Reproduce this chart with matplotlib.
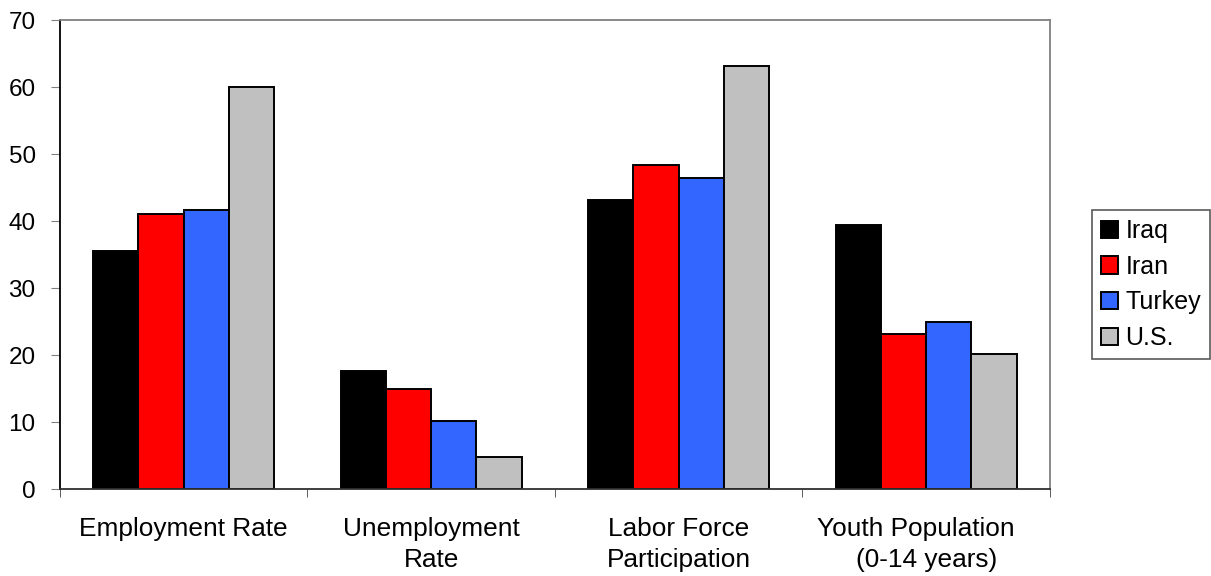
import numpy as np
import matplotlib.pyplot as plt

plt.rcParams['font.family'] = ['Liberation Sans', 'DejaVu Sans']

categories = ['Employment Rate', 'Unemployment\nRate', 'Labor Force\nParticipation',
              'Youth Population   \n(0-14 years)']
countries = ['Iraq', 'Iran', 'Turkey', 'U.S.']
iraq = [35.5, 17.6, 43.1, 39.4]
iran = [41.1, 15.0, 48.4, 23.2]
turkey = [41.6, 10.2, 46.4, 24.9]
us = [60.0, 4.8, 63.1, 20.2]
colors = ['#000000', '#ff0000', '#3366ff', '#c0c0c0']

series = [iraq, iran, turkey, us]

fig = plt.figure(figsize=(12.11, 5.76), dpi=100)
ax = fig.add_axes([0.0495, 0.151, 0.8175, 0.814])

x = np.arange(len(categories))
w = 0.183
for k in range(len(series)):
    ax.bar(x + (k - 1.5) * w, series[k], width=w, color=colors[k],
           edgecolor='black', linewidth=1.4, label=countries[k])

ax.set_xlim(-0.5, len(categories) - 0.5)
ax.set_ylim(0, 70)
ax.set_yticks(np.arange(0, 71, 10))
ax.set_xticks(x)
ax.set_xticklabels(categories, fontsize=18.9, linespacing=1.32)
ax.set_xticks(np.arange(-0.5, len(categories), 1.0), minor=True)
ax.tick_params(axis='x', which='major', length=0, pad=20.5)
ax.tick_params(axis='x', which='minor', length=6, color='#404040', direction='out')
ax.tick_params(axis='y', length=6.5, color='#808080', labelsize=17.5, pad=11)

ax.spines['left'].set_color('black')
ax.spines['bottom'].set_color('#303030')
ax.spines['top'].set_color('#808080')
ax.spines['right'].set_color('#808080')
for s in ax.spines.values():
    s.set_linewidth(1.3)

leg = fig.legend(loc='upper left', bbox_to_anchor=(1092 / 1211, 1 - 210 / 576), fontsize=18,
                 frameon=True, fancybox=False, edgecolor='#303030',
                 handlelength=0.68, handleheight=0.68, handletextpad=0.3,
                 borderpad=0.36, labelspacing=0.47, borderaxespad=0)
leg.get_frame().set_linewidth(1.2)
for h in leg.legend_handles:
    h.set_linewidth(1.4)

fig.savefig('out.png', dpi=100)
